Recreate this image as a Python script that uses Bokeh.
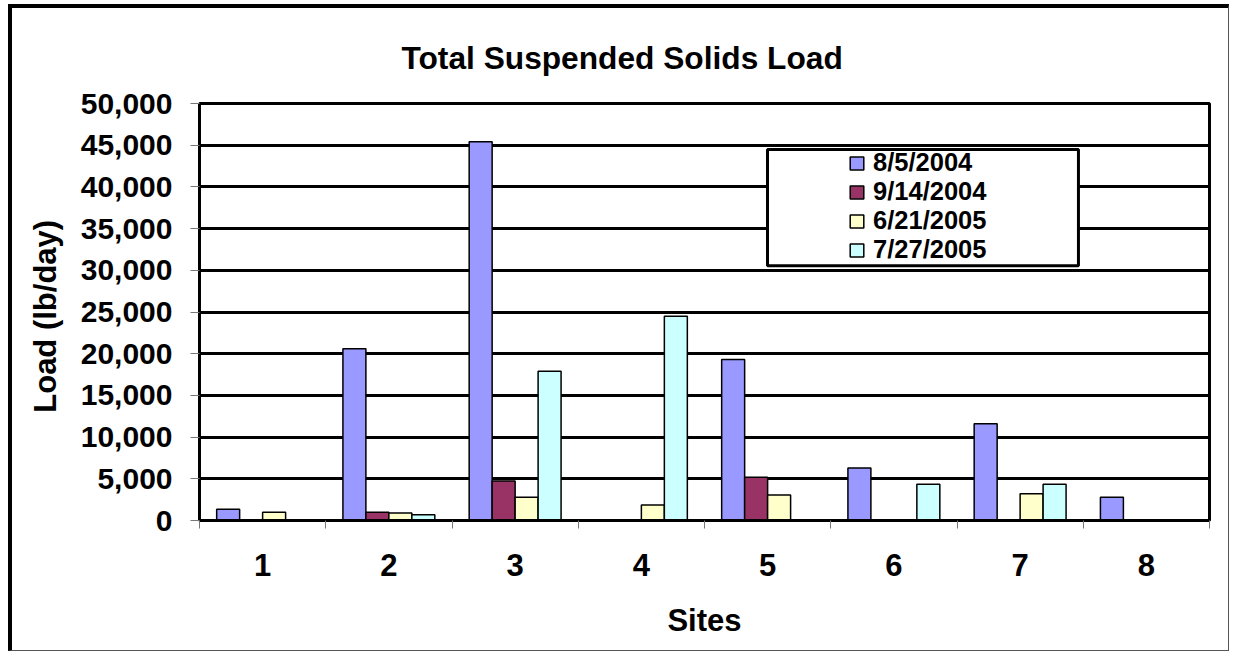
from bokeh.plotting import figure
from bokeh.models import (Range1d, FixedTicker, NumeralTickFormatter, Legend,
                          LegendItem, BoxAnnotation, ColumnDataSource, Title)
from bokeh.transform import dodge
from bokeh.embed import file_html
from bokeh.resources import INLINE

# ---------------- data ----------------
sites = [1, 2, 3, 4, 5, 6, 7, 8]
series_names = ["8/5/2004", "9/14/2004", "6/21/2005", "7/27/2005"]
load_aug_5_2004 = [1350, 20600, 45400, 0, 19300, 6300, 11600, 2800]
load_sep_14_2004 = [0, 1000, 4750, 0, 5200, 0, 0, 0]
load_jun_21_2005 = [1000, 900, 2800, 1850, 3050, 0, 3200, 0]
load_jul_27_2005 = [0, 700, 17900, 24500, 0, 4350, 4350, 0]
y_ticks = [0, 5000, 10000, 15000, 20000, 25000, 30000, 35000, 40000, 45000, 50000]
title_text = "Total Suspended Solids Load"

colors = ["#9999FF", "#993366", "#FFFFCC", "#CCFFFF"]
FONT = "Liberation Sans"

source = ColumnDataSource(dict(
    site=sites,
    s0=load_aug_5_2004,
    s1=load_sep_14_2004,
    s2=load_jun_21_2005,
    s3=load_jul_27_2005,
))

W, H = 1221, 647
p = figure(width=W, height=H, output_backend="svg", toolbar_location=None,
           x_range=Range1d(0.5, 8.5), y_range=Range1d(0, 50000),
           min_border_left=187, min_border_right=24,
           min_border_top=95, min_border_bottom=135)
p.styles = {"margin-left": "8px", "margin-top": "4px",
            "border-left": "4px solid black", "border-top": "4px solid black",
            "border-right": "1px solid #555555", "border-bottom": "1px solid #555555"}
p.background_fill_color = "white"
p.border_fill_color = "white"
p.outline_line_color = "black"
p.outline_line_width = 3

xa = p.below[0]
ya = p.left[0]

# title
p.title = Title(text=title_text, align="left", offset=202,
                text_font=FONT, text_font_size="31.7px", text_font_style="bold",
                text_color="black", standoff=55)

# bars
bw = 0.182
offsets = [-1.5 * bw, -0.5 * bw, 0.5 * bw, 1.5 * bw]
renderers = []
for i, (name, col) in enumerate(zip(series_names, colors)):
    r = p.vbar(x=dodge("site", offsets[i], range=p.x_range), top="s%d" % i,
               width=bw, source=source, fill_color=col, line_color="black",
               line_width=1.5)
    renderers.append(r)

# grid
p.xgrid.visible = False
p.ygrid.grid_line_color = "black"
p.ygrid.grid_line_width = 3
p.ygrid.ticker = FixedTicker(ticks=y_ticks)

# y axis
ya.ticker = FixedTicker(ticks=y_ticks)
ya.formatter = NumeralTickFormatter(format="0,0")
ya.axis_label = "Load  (lb/day)"
ya.axis_label_text_font = FONT
ya.axis_label_text_font_size = "31px"
ya.axis_label_text_font_style = "bold"
ya.axis_label_text_color = "black"
ya.axis_label_standoff = 15
ya.major_label_text_font = FONT
ya.major_label_text_font_size = "30px"
ya.major_label_text_font_style = "bold"
ya.major_label_text_color = "black"
ya.major_label_standoff = 18
ya.axis_line_color = "black"
ya.axis_line_width = 3
ya.major_tick_in = 0
ya.major_tick_out = 9
ya.major_tick_line_color = "#777777"
ya.major_tick_line_width = 1
ya.minor_tick_line_color = None

# x axis
xa.ticker = FixedTicker(ticks=sites, minor_ticks=[s - 0.5 for s in sites] + [sites[-1] + 0.5])
xa.axis_label = "Sites"
xa.axis_label_text_font = FONT
xa.axis_label_text_font_size = "31px"
xa.axis_label_text_font_style = "bold"
xa.axis_label_text_color = "black"
xa.axis_label_standoff = 24
xa.major_label_text_font = FONT
xa.major_label_text_font_size = "31px"
xa.major_label_text_font_style = "bold"
xa.major_label_text_color = "black"
xa.major_label_standoff = 25
xa.axis_line_color = "black"
xa.axis_line_width = 3
xa.major_tick_in = 0
xa.major_tick_out = 0
xa.minor_tick_in = 0
xa.minor_tick_out = 8
xa.minor_tick_line_color = "#777777"
xa.minor_tick_line_width = 1

# legend frame
box = BoxAnnotation(left=4.999, right=7.462, top=44480, bottom=30540,
                    fill_color="white", fill_alpha=1.0,
                    line_color="black", line_width=3, line_alpha=1.0)
p.add_layout(box)

# one legend per entry so the rows can be spaced exactly
legend_offsets = [343, 314, 285, 256]
for n, r, off in zip(series_names, renderers, legend_offsets):
    lg = Legend(items=[LegendItem(label=n, renderers=[r])],
                location=(649, off), orientation="vertical",
                padding=0, margin=0, spacing=0,
                glyph_width=17, glyph_height=16, label_standoff=8,
                label_text_font=FONT, label_text_font_size="25.5px",
                label_text_font_style="bold", label_text_color="black",
                border_line_alpha=0, background_fill_alpha=0)
    p.add_layout(lg, "center")

open("out.html", "w").write(file_html(p, INLINE))
